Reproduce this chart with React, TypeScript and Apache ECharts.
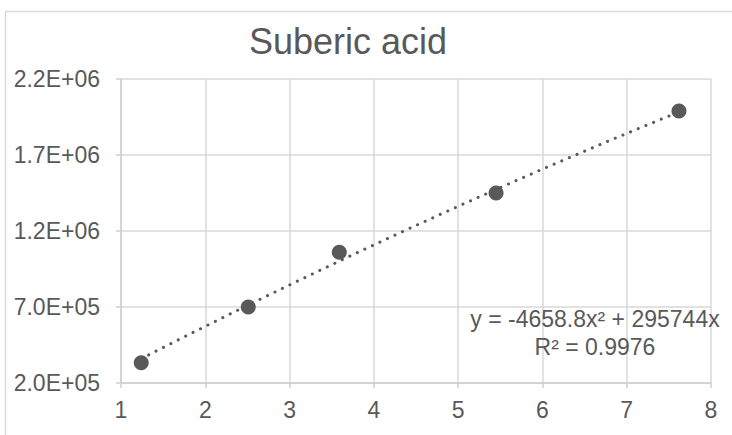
import React, { useEffect, useRef } from "react";
import * as echarts from "echarts";

const TITLE = "Suberic acid";
const xValues = [1.24, 2.51, 3.59, 5.45, 7.62];
const yValues = [334000, 700000, 1060000, 1450000, 1990000];
// Trendline coefficients as displayed on the chart (polynomial order 2, intercept 0)
const trendA = -4658.8;
const trendB = 295744;
const equationText = "y = -4658.8x² + 295744x";
const r2Text = "R² = 0.9976";
const xTicks = { min: 1, max: 8, interval: 1 };
const yTicks = { min: 200000, max: 2200000, interval: 500000 };

const FONT = "'Liberation Sans', Arial, sans-serif";
const TEXT_COLOR = "#595959";

function fmtSci(v: number): string {
  if (v === 0) return "0.0E+00";
  const e = Math.floor(Math.log10(Math.abs(v)) + 1e-9);
  const m = v / Math.pow(10, e);
  return `${m.toFixed(1)}E+${String(e).padStart(2, "0")}`;
}

export default function App() {
  const ref = useRef<HTMLDivElement>(null);
  useEffect(() => {
    if (!ref.current) return;
    const chart = echarts.init(ref.current, undefined, { renderer: "svg" });
    const xStart = xValues[0];
    const xEnd = xValues[xValues.length - 1];
    const steps = 40;
    const trend: number[][] = [];
    for (let i = 0; i <= steps; i++) {
      const x = xStart + ((xEnd - xStart) * i) / steps;
      trend.push([x, trendA * x * x + trendB * x]);
    }
    chart.setOption({
      animation: false,
      backgroundColor: "#ffffff",
      textStyle: { fontFamily: FONT },
      grid: { left: 121, right: 21, top: 79, bottom: 52 },
      xAxis: {
        type: "value",
        min: xTicks.min,
        max: xTicks.max,
        interval: xTicks.interval,
        axisLine: { show: true, onZero: false, lineStyle: { color: "#cfcfcf", width: 1.5 } },
        axisTick: { show: true, length: 5, lineStyle: { color: "#cfcfcf", width: 1.5 } },
        axisLabel: { color: TEXT_COLOR, fontSize: 23, fontFamily: FONT, margin: 15 },
        splitLine: { show: true, lineStyle: { color: "#d9d9d9", width: 1.5 } },
      },
      yAxis: {
        type: "value",
        min: yTicks.min,
        max: yTicks.max,
        interval: yTicks.interval,
        axisLine: { show: true, onZero: false, lineStyle: { color: "#cfcfcf", width: 1.5 } },
        axisTick: { show: true, length: 5, lineStyle: { color: "#cfcfcf", width: 1.5 } },
        axisLabel: {
          color: TEXT_COLOR,
          fontSize: 23,
          fontFamily: FONT,
          margin: 21,
          formatter: (v: number) => fmtSci(v),
        },
        splitLine: { show: true, lineStyle: { color: "#d9d9d9", width: 1.5 } },
      },
      graphic: [
        {
          type: "rect",
          silent: true,
          z: -1,
          shape: { x: 5.5, y: 11.5, width: 800, height: 500 },
          style: { fill: "none", stroke: "#d9d9d9", lineWidth: 1.5 },
        },
        {
          type: "text",
          x: 348,
          y: 41,
          style: {
            text: TITLE,
            fontSize: 36,
            fontFamily: FONT,
            fill: TEXT_COLOR,
            textAlign: "center",
            textVerticalAlign: "middle",
          },
        },
        {
          type: "text",
          x: 595,
          y: 318.5,
          z: 10,
          style: {
            text: equationText,
            fontSize: 23,
            fontFamily: FONT,
            fill: TEXT_COLOR,
            textAlign: "center",
            textVerticalAlign: "middle",
          },
        },
        {
          type: "text",
          x: 595,
          y: 347,
          z: 10,
          style: {
            text: r2Text,
            fontSize: 23,
            fontFamily: FONT,
            fill: TEXT_COLOR,
            textAlign: "center",
            textVerticalAlign: "middle",
          },
        },
      ],
      series: [
        {
          type: "line",
          data: trend,
          showSymbol: false,
          symbol: "none",
          silent: true,
          z: 2,
          lineStyle: { color: TEXT_COLOR, width: 3, type: [0.1, 8.2], cap: "round" },
        },
        {
          type: "scatter",
          data: xValues.map((x, i) => [x, yValues[i]]),
          symbol: "circle",
          symbolSize: 15,
          z: 3,
          itemStyle: { color: TEXT_COLOR, opacity: 1 },
        },
      ],
    });
    return () => chart.dispose();
  }, []);
  return (
    <div
      ref={ref}
      style={{ position: "fixed", left: 0, top: 0, width: 732, height: 435 }}
    />
  );
}
